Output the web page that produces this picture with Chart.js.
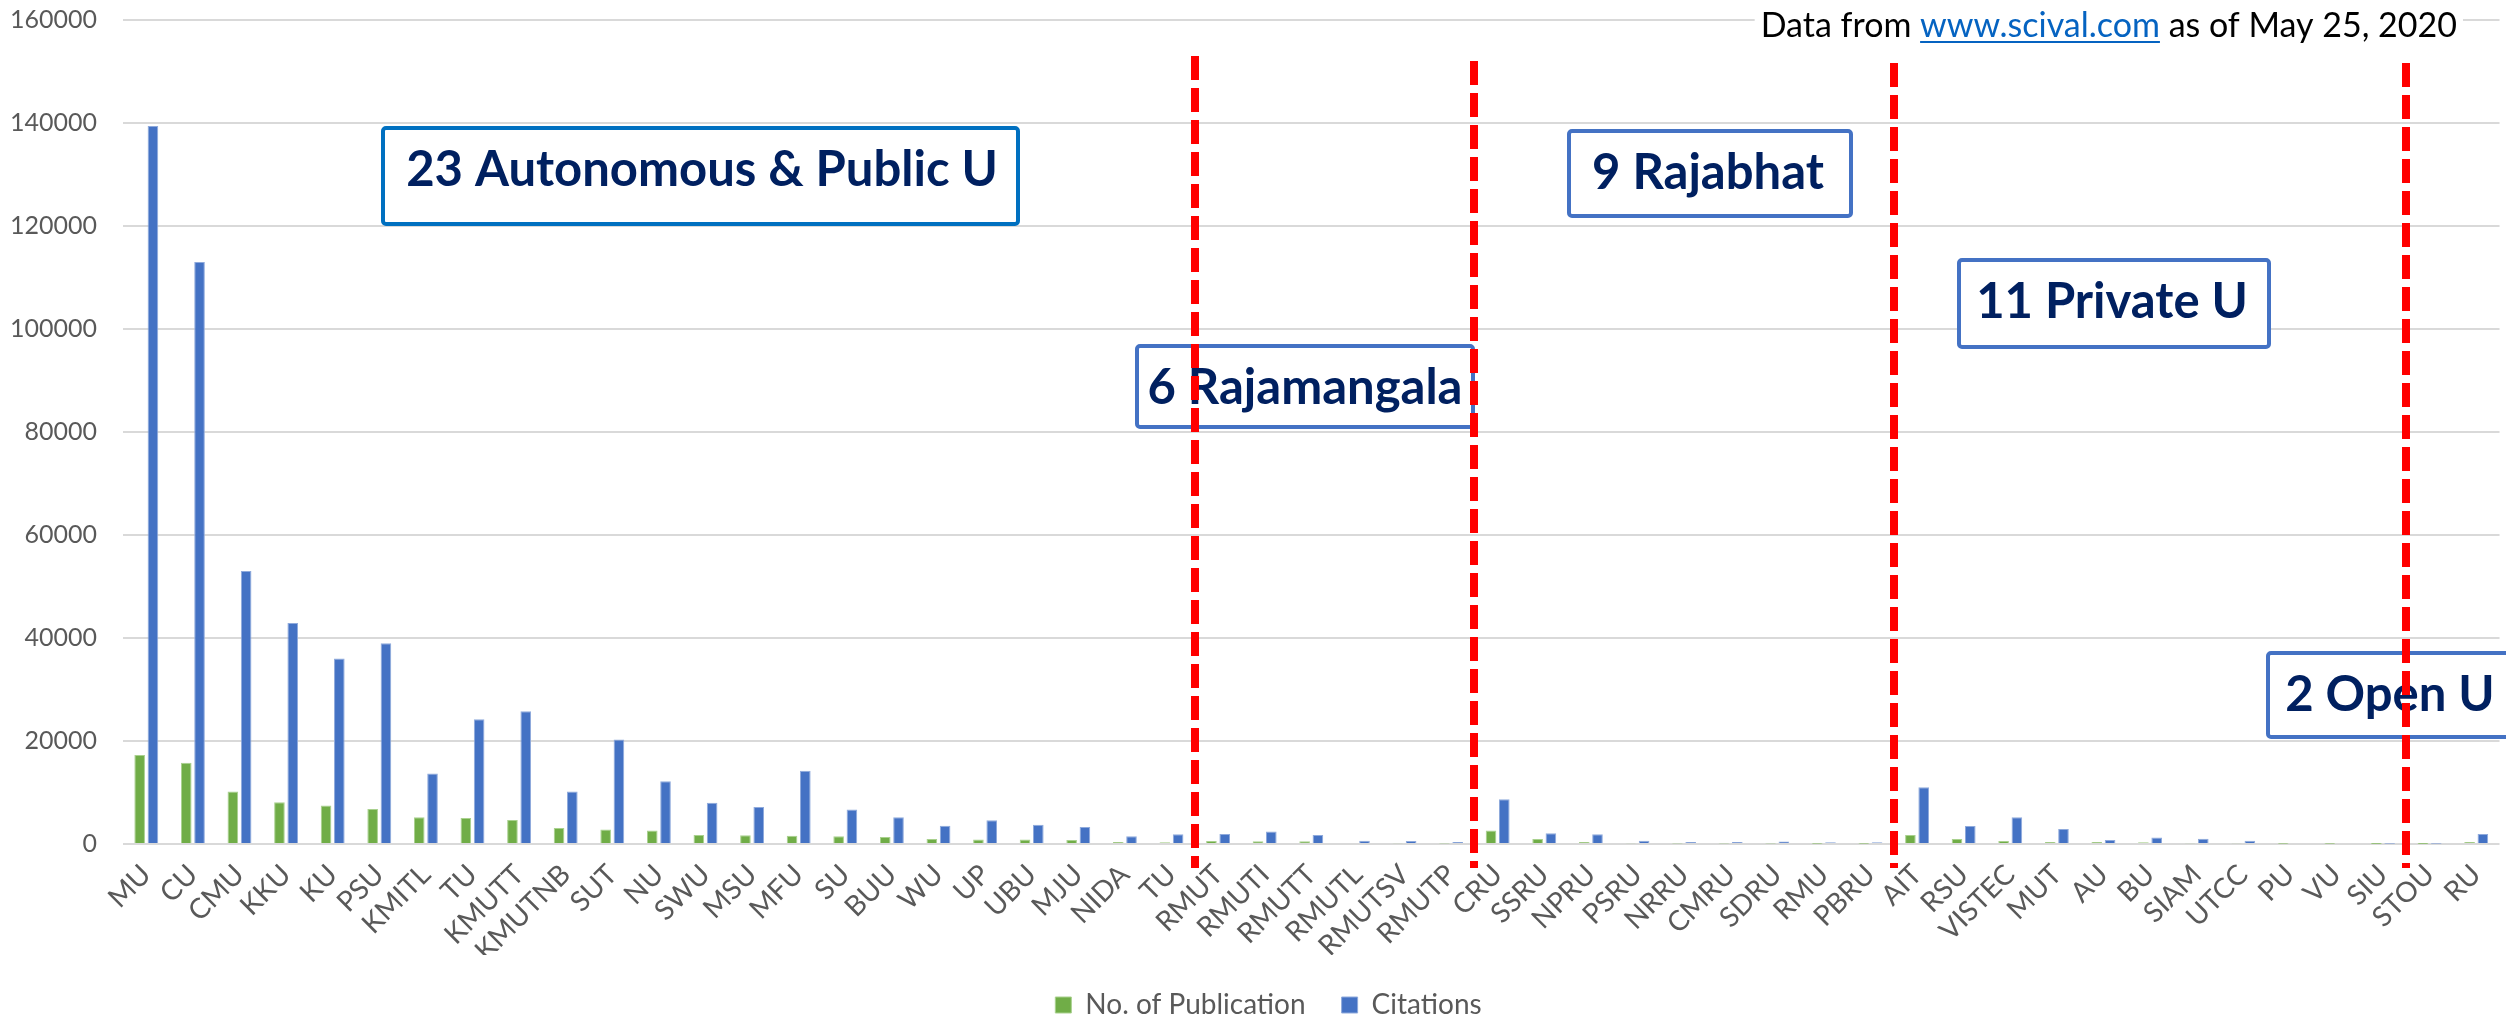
<!DOCTYPE html>
<html>
<head>
<meta charset="utf-8">
<script src="https://cdn.jsdelivr.net/npm/chart.js@4"></script>
<style>
  html, body { margin: 0; padding: 0; background: #fff; }
</style>
</head>
<body>
<canvas id="myChart" width="2506" height="1017"></canvas>
<script>
// universities in the order shown, grouped by type
const universities = [
  'MU', 'CU', 'CMU', 'KKU', 'KU', 'PSU', 'KMITL', 'TU', 'KMUTT', 'KMUTNB', 'SUT', 'NU',
  'SWU', 'MSU', 'MFU', 'SU', 'BUU', 'WU', 'UP', 'UBU', 'MJU', 'NIDA', 'TU',
  'RMUT', 'RMUTI', 'RMUTT', 'RMUTL', 'RMUTSV', 'RMUTP',
  'CRU', 'SSRU', 'NPRU', 'PSRU', 'NRRU', 'CMRU', 'SDRU', 'RMU', 'PBRU',
  'AIT', 'RSU', 'VISTEC', 'MUT', 'AU', 'BU', 'SIAM', 'UTCC', 'PU', 'VU', 'SIU',
  'STOU', 'RU'
];

const publications = [
  17300, 15800, 10200, 8100, 7500, 6800, 5200, 5050, 4650, 3100, 2800, 2600,
  1750, 1700, 1600, 1500, 1350, 950, 850, 850, 780, 400, 330,
  580, 520, 520, 200, 140, 100,
  2600, 970, 400, 130, 100, 100, 120, 40, 40,
  1750, 970, 580, 400, 400, 330, 130, 130, 40, 30, 20,
  20, 400
];

const citations = [
  139400, 113000, 53000, 42900, 36000, 39000, 13700, 24200, 25800, 10200, 20300, 12200,
  8000, 7200, 14200, 6700, 5200, 3550, 4600, 3750, 3300, 1500, 1900,
  1950, 2450, 1750, 650, 580, 400,
  8700, 2100, 1900, 650, 400, 400, 500, 330, 330,
  11000, 3500, 5200, 2900, 800, 1250, 1000, 650, 200, 200, 50,
  60, 1950
];

// number of universities in each group: autonomous/public, rajamangala, rajabhat, private, open
const groupSizes = [23, 6, 9, 11, 2];

const yMax = 160000;
const yStep = 20000;

// callout boxes (canvas pixels)
const callouts = [
  { text: '23 Autonomous & Public U', x: 383, y: 128, w: 635, h: 96, cx: 702, border: '#0070C0' },
  { text: '9 Rajabhat', x: 1569, y: 131, w: 282, h: 85, cx: 1708, border: '#4472C4' },
  { text: '11 Private U', x: 1959, y: 260, w: 310, h: 87, cx: 2112, border: '#4472C4' },
  { text: '6 Rajamangala', x: 1137, y: 346, w: 336, h: 81, cx: 1305, border: '#4472C4' },
  { text: '2 Open U', x: 2268, y: 653, w: 260, h: 84, cx: 2390, border: '#4472C4' }
];
const dividerTops = [56, 61, 63, 63];
const dividerBottom = 868;

const FONT = 'Lato, "Open Sans", sans-serif';

const annotations = {
  id: 'annotations',
  afterLayout(chart) {
    // legend sits a little right of the canvas centre in the original
    chart.legend.left += 16;
    chart.legend.right += 16;
  },
  afterDraw(chart) {
    const ctx = chart.ctx;
    const x = chart.scales.x;
    ctx.save();

    // callout boxes
    callouts.forEach(c => {
      ctx.fillStyle = '#ffffff';
      ctx.fillRect(c.x, c.y, c.w, c.h);
      ctx.lineWidth = 4;
      ctx.strokeStyle = c.border;
      ctx.beginPath();
      ctx.roundRect(c.x, c.y, c.w, c.h, 3);
      ctx.stroke();
      ctx.fillStyle = '#002060';
      ctx.font = 'bold 49px ' + FONT;
      ctx.textAlign = 'center';
      ctx.textBaseline = 'alphabetic';
      ctx.fillText(c.text, c.cx, c.y + 58);
    });

    // red dashed dividers between the groups
    ctx.strokeStyle = '#FF0000';
    ctx.lineWidth = 8;
    ctx.setLineDash([24, 8]);
    let idx = 0;
    groupSizes.slice(0, -1).forEach((n, i) => {
      idx += n;
      const px = Math.round(x.getPixelForValue(idx - 0.5));
      ctx.beginPath();
      ctx.moveTo(px, dividerTops[i]);
      ctx.lineTo(px, dividerBottom);
      ctx.stroke();
    });
    ctx.setLineDash([]);

    // source note
    ctx.font = '34px ' + FONT;
    ctx.textAlign = 'left';
    ctx.textBaseline = 'alphabetic';
    const parts = [
      { t: 'Data from ', c: '#000000' },
      { t: 'www.scival.com', c: '#0563C1', u: true },
      { t: ' as of May 25, 2020', c: '#000000' }
    ];
    const total = parts.reduce((s, p) => s + ctx.measureText(p.t).width, 0);
    let tx = 2457 - total;
    const base = 37;
    ctx.fillStyle = '#ffffff';
    ctx.fillRect(tx - 6, 6, total + 12, 40);
    parts.forEach(p => {
      const w = ctx.measureText(p.t).width;
      ctx.fillStyle = p.c;
      ctx.fillText(p.t, tx, base);
      if (p.u) {
        ctx.fillRect(tx, base + 4, w, 2);
      }
      tx += w;
    });

    ctx.restore();
  }
};

const ctx = document.getElementById('myChart').getContext('2d');

const myChart = new Chart(ctx, {
  type: 'bar',
  data: {
    labels: universities,
    datasets: [{
      label: 'No. of Publication',
      data: publications,
      backgroundColor: '#70AD47',
      borderColor: '#A9D18E',
      borderWidth: 1,
      categoryPercentage: 0.57,
      barPercentage: 0.8
    }, {
      label: 'Citations',
      data: citations,
      backgroundColor: '#4472C4',
      borderColor: '#8FAADC',
      borderWidth: 1,
      categoryPercentage: 0.57,
      barPercentage: 0.8
    }]
  },
  options: {
    responsive: false,
    animation: false,
    devicePixelRatio: 1,
    layout: {
      padding: { top: 20, right: 1, left: 0, bottom: -12 }
    },
    scales: {
      x: {
        grid: { display: false },
        border: { display: false },
        ticks: {
          color: '#595959',
          font: { family: FONT, size: 28 },
          minRotation: 45,
          maxRotation: 45,
          autoSkip: false,
          padding: 6
        },
        afterFit(scale) {
          scale.height = 111;
        }
      },
      y: {
        min: 0,
        max: yMax,
        border: { display: false },
        grid: {
          color: '#D9D9D9',
          lineWidth: 2,
          drawTicks: true,
          tickLength: 26,
          tickColor: 'rgba(0,0,0,0)'
        },
        ticks: {
          stepSize: yStep,
          color: '#595959',
          font: { family: FONT, size: 25 },
          padding: 0,
          callback: v => String(v)
        },
        afterFit(scale) {
          scale.width = 123;
        }
      }
    },
    plugins: {
      legend: {
        position: 'bottom',
        labels: {
          color: '#595959',
          font: { family: FONT, size: 28 },
          boxWidth: 16,
          boxHeight: 16,
          padding: 36
        }
      },
      tooltip: { enabled: false }
    }
  },
  plugins: [annotations]
});
</script>
</body>
</html>
